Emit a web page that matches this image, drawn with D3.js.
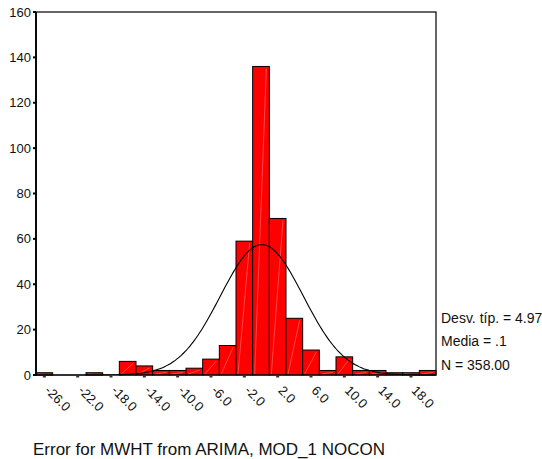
<!DOCTYPE html>
<html>
<head>
<meta charset="utf-8">
<script src="https://cdn.jsdelivr.net/npm/d3@7"></script>
<style>
  body { margin: 0; background: #fff; }
  text { font-family: Arial, "Liberation Sans", sans-serif; fill: #111; }
</style>
</head>
<body>
<div id="vis"></div>
<script>
// bin centres (width 2) and counts
var binCenters = [-26, -24, -22, -20, -18, -16, -14, -12, -10, -8, -6, -4, -2, 0, 2, 4, 6, 8, 10, 12, 14, 16, 18, 20];
var counts     = [1, 0, 0, 1, 0, 6, 4, 2, 2, 3, 7, 13, 59, 136, 69, 25, 11, 2, 8, 2, 2, 1, 1, 2];
var xTicks = [-26, -22, -18, -14, -10, -6, -2, 2, 6, 10, 14, 18];
var yTicks = [0, 20, 40, 60, 80, 100, 120, 140, 160];
var statsLines = ["Desv. típ. = 4.97", "Media = .1", "N = 358.00"];
var stdDev = 4.97, mean = 0.1, nCases = 358, binWidth = 2;
var xTitle = "Error for MWHT from ARIMA, MOD_1 NOCON";

function drawHistogram() {
    var width = 542, height = 459;
    var plotLeft = 36, plotRight = 436, plotTop = 12, plotBottom = 375;

    var svg = d3.select('#vis').append('svg')
        .attr('width', width)
        .attr('height', height);

    var x = d3.scaleLinear().domain([-27, 21]).range([plotLeft, plotRight]);
    var y = d3.scaleLinear().domain([0, 160]).range([plotBottom, plotTop]);

    // bars
    var bars = svg.append('g');
    binCenters.forEach(function (c, i) {
        if (counts[i] <= 0) return;
        var x0 = x(c - binWidth / 2), x1 = x(c + binWidth / 2);
        bars.append('rect')
            .attr('x', x0)
            .attr('y', y(counts[i]))
            .attr('width', x1 - x0)
            .attr('height', y(0) - y(counts[i]))
            .attr('fill', '#ff0000')
            .attr('stroke', '#000')
            .attr('stroke-width', 1);
        // faint diagonal streak, as in the original export
        bars.append('line')
            .attr('x1', x0 + 2).attr('y1', y(0) - 1)
            .attr('x2', x1 - 3).attr('y2', y(counts[i]) + 2)
            .attr('stroke', 'rgba(255,255,255,0.35)')
            .attr('stroke-width', 0.8);
    });

    // normal curve
    var curvePts = d3.range(-27, 21.01, 0.25).map(function (v) {
        var z = (v - mean) / stdDev;
        return [v, nCases * binWidth * Math.exp(-0.5 * z * z) / (stdDev * Math.sqrt(2 * Math.PI))];
    });
    svg.append('path')
        .datum(curvePts)
        .attr('fill', 'none')
        .attr('stroke', '#000')
        .attr('stroke-width', 1.1)
        .attr('d', d3.line().x(d => x(d[0])).y(d => y(d[1])).curve(d3.curveBasis));

    // frame
    svg.append('rect')
        .attr('x', plotLeft).attr('y', plotTop)
        .attr('width', plotRight - plotLeft).attr('height', plotBottom - plotTop)
        .attr('fill', 'none')
        .attr('stroke', '#000')
        .attr('stroke-width', 1.2);
    svg.append('line')
        .attr('x1', plotLeft).attr('y1', plotTop).attr('x2', plotLeft).attr('y2', plotBottom + 1)
        .attr('stroke', '#000').attr('stroke-width', 1.8);

    // y ticks
    var yAxis = svg.append('g');
    yTicks.forEach(function (t) {
        yAxis.append('rect')
            .attr('x', plotLeft - 3).attr('y', y(t) - 1)
            .attr('width', 3).attr('height', 2)
            .attr('fill', '#000');
        yAxis.append('text')
            .attr('x', plotLeft - 5)
            .attr('y', y(t))
            .attr('dy', '0.35em')
            .attr('text-anchor', 'end')
            .style('font-size', '13px')
            .text(t);
    });

    // x ticks, rotated labels
    var xAxis = svg.append('g');
    xTicks.forEach(function (t) {
        xAxis.append('rect')
            .attr('x', x(t) - 1.5).attr('y', plotBottom + 1)
            .attr('width', 3).attr('height', 1.5)
            .attr('fill', '#333');
        xAxis.append('text')
            .attr('transform', 'translate(' + (x(t) + 3) + ',' + (plotBottom + 13) + ') rotate(45)')
            .attr('dy', '0.35em')
            .attr('text-anchor', 'start')
            .style('font-size', '13px')
            .text(t.toFixed(1));
    });

    // stats block
    svg.selectAll('.stat')
        .data(statsLines)
        .enter().append('text')
        .attr('class', 'stat')
        .attr('x', plotRight + 5)
        .attr('y', (d, i) => 318 + i * 23.5)
        .attr('dy', '0.35em')
        .style('font-size', '14px')
        .text(d => d);

    // axis title
    svg.append('text')
        .attr('x', 33)
        .attr('y', 449)
        .attr('dy', '0.35em')
        .style('font-size', '17px')
        .text(xTitle);
}

drawHistogram();
</script>
</body>
</html>
